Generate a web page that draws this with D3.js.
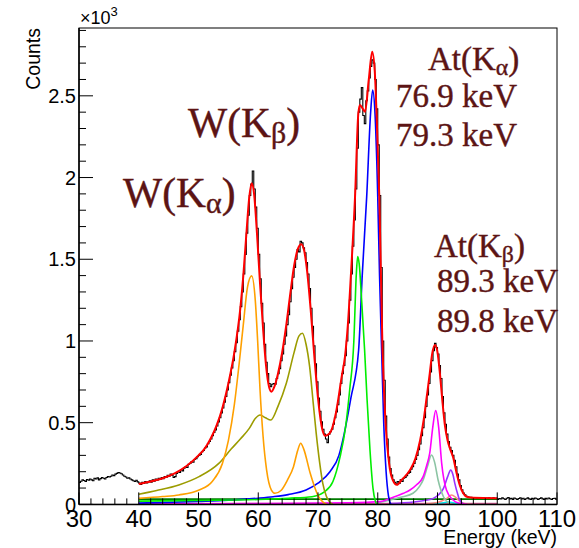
<!DOCTYPE html>
<html><head><meta charset="utf-8">
<script src="https://cdn.jsdelivr.net/npm/d3@7"></script>
<style>body{margin:0;background:#fff}svg{display:block}</style>
</head><body>
<svg id="c" width="579" height="548"></svg>
<script>
// ---------------- data ----------------
const xTicks = [30,40,50,60,70,80,90,100,110];
const yTicks = [0,500,1000,1500,2000,2500];
const yTickLabels = ["0","0.5","1","1.5","2","2.5"];

// histogram: 0.25 keV bins from 30 to 110 keV (counts per bin, bin low edges 30, 30.25, ...)
const histStart = 30, histWidth = 0.25;
const histCounts = [
 // 30 - 39.75
 135,142,150,146,140,152,148,155,150,145,160,155,162,150,158,165,160,155,165,170,
 168,172,180,176,185,190,195,192,188,180,172,168,160,162,155,150,145,140,148,138,
 // 40 - 54.75
 130,122,135,128,140,132,138,145,136,150,142,155,148,160,152,165,158,170,165,178,
 172,185,178,165,170,190,200,195,212,205,222,230,226,245,250,262,258,275,280,292,
 300,305,322,330,345,352,372,385,400,420,440,455,480,505,530,560,590,625,660,700,
 // 55 - 61.75
 745,790,835,880,935,990,1060,1130,1210,1300,1410,1530,1660,1770,1890,1960,2040,1930,1820,1690,
 1530,1380,1230,1110,980,870,800,740,
 // 62 - 71.75
 720,735,740,735,770,800,830,880,920,980,1030,1100,1160,1240,1320,1390,1450,1500,1560,1545,
 1610,1600,1570,1540,1480,1410,1320,1200,1090,970,860,750,650,570,505,460,430,400,378,430,
 // 72 - 82.75
 445,460,490,530,565,610,670,740,800,850,910,1000,1110,1250,1410,1580,1740,1930,2180,2400,
 2480,2550,2380,2330,2470,2530,2610,2680,2720,2700,2600,2420,2200,1890,1450,1000,760,540,400,290,
 220,180,150,135,
 // 83 - 95.75
 125,140,128,150,140,160,165,175,190,195,215,230,250,275,300,335,370,420,470,530,
 600,670,740,810,880,940,985,960,920,850,770,660,560,490,430,385,350,330,300,270,
 230,185,150,115,90,70,58,50,46,42,44,40,
 // 96 - 109.75
 38,42,36,40,35,39,42,36,38,33,40,37,35,41,34,38,30,36,33,40,
 35,30,38,42,34,37,31,39,35,30,36,41,33,38,30,35,40,34,31,37,
 33,39,35,30,36,40,34,31,37,33,39,35,30,36,38,32
];

// total fit (red)
const totalE = [40,42,44,46,48,50,51,52,53,54,55,56,57,57.5,58,58.5,58.9,59.3,59.8,60.3,60.8,61.3,61.8,62.2,62.7,63.3,64,64.7,65.4,66,66.6,67.2,67.7,68.2,68.8,69.4,70,70.6,71.2,71.6,72.2,73,74,74.5,75,75.5,76.2,76.75,77.03,77.5,77.87,78.5,79.07,79.5,79.8,80.26,80.8,81.3,81.9,82.5,83.2,84,85.4,86.3,87.1,87.7,88.2,88.7,89.1,89.6,90,90.4,90.8,91.25,91.7,92.1,92.6,93.2,93.7,94.3,95,96,100];
const totalC = [125,140,160,190,235,300,340,400,480,590,740,930,1200,1400,1650,1880,1965,1900,1650,1350,1080,850,720,690,720,800,930,1100,1300,1460,1560,1592,1550,1420,1180,900,650,480,420,425,450,560,790,900,1100,1400,1883,2393,2444,2420,2403,2600,2770,2650,2393,1883,943,500,250,150,120,150,210,280,394,520,659,800,920,975,930,802,640,480,390,340,290,190,120,68,45,40,38];

// components
const orangeE = [40,44,46.7,50.1,52.3,54,55,56,56.8,57.5,58.2,58.9,59.5,59.9,60.3,60.8,61.4,62.2,62.8,63.8,64.9,65.9,66.6,67.1,67.6,68.7,69.4,70.1,70.8,71.5];
const orangeC = [37,48,58,88,140,250,390,610,860,1100,1330,1398,1250,1000,700,420,210,88,68,85,150,231,330,374,340,190,110,47,15,0];

const oliveE = [40,43,46.7,50.1,53.4,55.5,57,58.5,59.5,60.3,61.2,62.1,63.3,64.7,66,66.8,67.4,68,68.6,69.2,69.7,70.3,70.8,71.4,71.9,72.5];
const oliveC = [62,85,119,170,251,340,400,465,525,547,530,516,600,741,930,1030,1047,980,843,620,435,250,129,50,17,0];

const greenE = [40,50,60,65,69,71,72.5,73.7,74.6,75.3,76,76.4,76.64,76.9,77.3,77.8,78.2,78.7,79.2,79.6,79.9];
const greenC = [20,24,30,38,47,75,140,292,470,700,1000,1400,1516,1470,1250,945,650,333,100,20,0];

const blueE = [40,50,55,60,62.5,65,68,70,72,73.5,74.4,75.5,76.8,77.4,78.15,78.8,79.15,79.54,80,80.3,80.65,81,81.4,81.8,82.2];
const blueC = [8,18,25,38,47,60,88,130,200,300,435,650,945,1400,1883,2393,2536,2393,1883,1400,943,500,200,50,0];

const magentaE = [40,60,75,80.4,82.1,84.3,85.4,86.5,87.6,88.2,88.7,89.2,89.7,90.2,90.7,91.5,92.6,93.5,95];
const magentaC = [3,5,10,17,37,68,88,120,170,240,313,470,574,470,251,88,27,8,0];

const seafoamE = [80,82.1,84,85.9,87,87.6,88.3,89,89.5,90.1,91,91.8,92.5];
const seafoamC = [10,27,45,68,110,150,230,302,260,149,47,10,0];

const purpleE = [82,86,88,89.3,90.2,91,91.7,92.2,92.6,92.9,93.4,93.7,94.5];
const purpleC = [5,15,25,37,60,98,170,210,180,129,60,27,0];

const salmonE = [88,90,91.5,92.35,93,93.7,94.5,95.5];
const salmonC = [5,12,35,57,45,20,5,0];

const cyanE = [88,90.5,91.8,92.6,93.5,94.5];
const cyanC = [2,8,14,10,3,0];

const bkgE = [40,100];
const bkgC = [32,32];

const pinkE = [40,100];
const pinkC = [3,3];

const labels = [
  {base:"W(K", sub:"α", x:123, y:207, size:41.5},
  {base:"W(K", sub:"β", x:188, y:137, size:41.5},
  {base:"At(K", sub:"α", x:428, y:70, size:33},
  {text:"76.9 keV", x:396, y:107, size:33},
  {text:"79.3 keV", x:396, y:146, size:33},
  {base:"At(K", sub:"β", x:434, y:257, size:33},
  {text:"89.3 keV", x:437, y:292, size:33},
  {text:"89.8 keV", x:437, y:332, size:33}
];

// ---------------- drawing ----------------
const svg = d3.select("#c");
const L=79, R=557, T=28, B=504.4;
const x = d3.scaleLinear().domain([30,110]).range([L,R]);
const y = d3.scaleLinear().domain([0,2915]).range([B,T]);

svg.append("defs").append("clipPath").attr("id","clip")
  .append("rect").attr("x",L).attr("y",T).attr("width",R-L).attr("height",B-T);

const plot = svg.append("g").attr("clip-path","url(#clip)");

// histogram
const histPts = histCounts.map((c,i)=>[histStart+i*histWidth,c]);
histPts.push([histStart+histCounts.length*histWidth, histCounts[histCounts.length-1]]);
plot.append("path").datum(histPts)
  .attr("d", d3.line().x(d=>x(d[0])).y(d=>y(d[1])).curve(d3.curveStepAfter))
  .attr("fill","none").attr("stroke","#000").attr("stroke-width",1.1);

function curve(E,C,color,w){
  const pts = E.map((e,i)=>[e,C[i]]);
  plot.append("path").datum(pts)
    .attr("d", d3.line().x(d=>x(d[0])).y(d=>y(d[1])).curve(d3.curveMonotoneX))
    .attr("fill","none").attr("stroke",color).attr("stroke-width",w||1.6);
}
curve(pinkE,pinkC,"#e0609c",2.2);
curve(bkgE,bkgC,"#007a00",1.6);
curve(cyanE,cyanC,"#00e5ee",1.5);
curve(salmonE,salmonC,"#ff8a80",1.5);
curve(purpleE,purpleC,"#9933ff",1.6);
curve(seafoamE,seafoamC,"#8cc4a4",1.6);
curve(magentaE,magentaC,"#ff00ff",1.6);
curve(blueE,blueC,"#0000ff",1.6);
curve(greenE,greenC,"#00ee00",1.6);
curve(oliveE,oliveC,"#9c9c00",1.6);
curve(orangeE,orangeC,"#ffa000",1.6);
curve(totalE,totalC,"#ff0000",2.0);

// frame
svg.append("rect").attr("x",L).attr("y",T).attr("width",R-L).attr("height",B-T)
  .attr("fill","none").attr("stroke","#000").attr("stroke-width",1);

// x axis
const xAxis = svg.append("g");
xAxis.append("line").attr("x1",L).attr("x2",R).attr("y1",B).attr("y2",B).attr("stroke","#000").attr("stroke-width",1.5);
d3.range(30,110.01,2).forEach(v=>{
  const major = (v%10===0);
  xAxis.append("line").attr("x1",x(v)).attr("x2",x(v)).attr("y1",B).attr("y2",B-(major?12:6))
    .attr("stroke","#000").attr("stroke-width",1);
});
xTicks.forEach(v=>{
  xAxis.append("text").attr("x",x(v)).attr("y",B+22.5).attr("text-anchor","middle")
    .attr("font-family","Liberation Sans, Arial, sans-serif").attr("font-size",24).text(v);
});
svg.append("text").attr("x",R).attr("y",544).attr("text-anchor","end")
  .attr("font-family","Liberation Sans, Arial, sans-serif").attr("font-size",19.5).text("Energy (keV)");

// y axis
const yAxis = svg.append("g");
yAxis.append("line").attr("x1",L).attr("x2",L).attr("y1",T).attr("y2",B).attr("stroke","#000").attr("stroke-width",1.5);
d3.range(0,2901,100).forEach(v=>{
  const major = (v%500===0);
  yAxis.append("line").attr("x1",L).attr("x2",L+(major?14:7)).attr("y1",y(v)).attr("y2",y(v))
    .attr("stroke","#000").attr("stroke-width",1);
});
yTicks.forEach((v,i)=>{
  yAxis.append("text").attr("x",L-3).attr("y",y(v)).attr("dy","0.36em").attr("text-anchor","end")
    .attr("font-family","Liberation Sans, Arial, sans-serif").attr("font-size",20).text(yTickLabels[i]);
});
const mult = svg.append("text").attr("x",80).attr("y",24)
  .attr("font-family","Liberation Sans, Arial, sans-serif").attr("font-size",18);
mult.append("tspan").text("×10");
mult.append("tspan").attr("font-size",13).attr("dy",-8).text("3");
svg.append("text").attr("transform","translate(40,28) rotate(-90)").attr("text-anchor","end")
  .attr("font-family","Liberation Sans, Arial, sans-serif").attr("font-size",19.5).text("Counts");

// annotations
const annColor = "#5c1414";
labels.forEach(l=>{
  const t = svg.append("text").attr("x",l.x).attr("y",l.y)
    .attr("font-family","Liberation Serif, Times New Roman, serif").attr("font-size",l.size)
    .attr("fill",annColor).attr("stroke",annColor).attr("stroke-width",0.4);
  if(l.text){ t.text(l.text); }
  else {
    t.append("tspan").text(l.base);
    t.append("tspan").attr("font-size",l.size*0.72).attr("dy",l.size*0.14).text(l.sub);
    t.append("tspan").attr("dy",-l.size*0.14).text(")");
  }
});
</script>
</body></html>
